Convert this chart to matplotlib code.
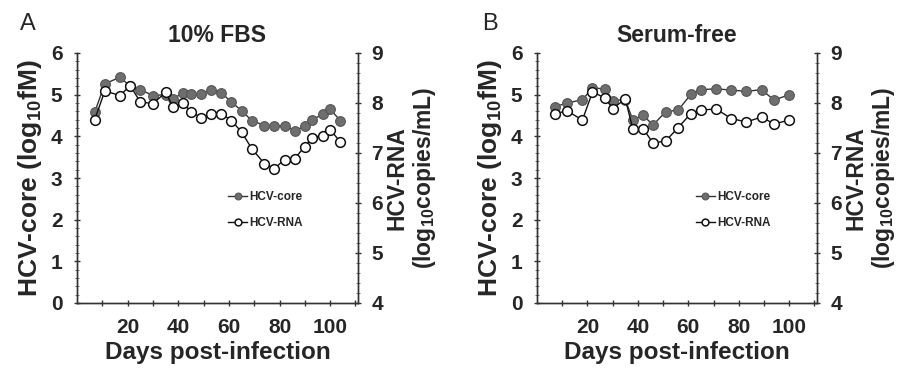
import matplotlib
matplotlib.use("Agg")
import matplotlib.pyplot as plt
from matplotlib.ticker import MultipleLocator, FixedLocator

plt.rcParams['font.family'] = ['Liberation Sans', 'DejaVu Sans']
plt.rcParams['mathtext.fontset'] = 'custom'
plt.rcParams['mathtext.rm'] = 'Liberation Sans:bold'
plt.rcParams['mathtext.it'] = 'Liberation Sans:bold'
plt.rcParams['mathtext.bf'] = 'Liberation Sans:bold'

# panel A: 10% FBS
days_a = [7, 11, 17, 21, 25, 30, 35, 38, 42, 45, 49, 53, 57, 61, 65, 69, 74, 78, 82, 86, 90, 93, 97, 100, 104]
core_a = [4.58, 5.26, 5.42, 5.20, 5.12, 4.98, 5.00, 4.90, 5.05, 5.02, 5.02, 5.12, 5.05, 4.82,
          4.62, 4.38, 4.26, 4.26, 4.25, 4.14, 4.24, 4.40, 4.53, 4.65, 4.38]
rna_a = [7.67, 8.24, 8.15, 8.35, 8.02, 7.99, 8.21, 7.92, 8.00, 7.82, 7.71, 7.79, 7.79, 7.65,
         7.42, 7.09, 6.79, 6.69, 6.87, 6.89, 7.13, 7.31, 7.35, 7.47, 7.22]

# panel B: serum-free
days_b = [7, 12, 18, 22, 27, 30, 35, 38, 42, 46, 51, 56, 61, 65, 71, 77, 83, 89, 94, 100]
core_b = [4.71, 4.80, 4.88, 5.16, 5.14, 4.86, 4.88, 4.39, 4.51, 4.27, 4.59, 4.63, 5.01, 5.12,
          5.14, 5.11, 5.08, 5.12, 4.87, 5.00]
rna_b = [7.79, 7.84, 7.66, 8.22, 8.10, 7.89, 8.08, 7.48, 7.49, 7.20, 7.24, 7.51, 7.79, 7.86,
         7.88, 7.69, 7.62, 7.72, 7.58, 7.66]

TXT = '#262626'
GRAY = '#6e6e6e'


def panel(fig, rect, days, core, rna, title, letter, letter_x, leg_x):
    ax = fig.add_axes(rect)
    ax2 = ax.twinx()
    l1, = ax.plot(days, core, '-o', color='#333333', lw=1.0, ms=7,
                  mfc=GRAY, mec='#555555', mew=0.8, label='HCV-core')
    l2, = ax2.plot(days, rna, '-o', color='#111111', lw=1.0, ms=7,
                   mfc='white', mec='#111111', mew=1.1, label='HCV-RNA')
    ax.set_xlim(0, 111)
    ax.set_ylim(0, 6)
    ax2.set_ylim(4, 9)
    for a in (ax, ax2):
        a.spines['top'].set_visible(False)
        for s in ('left', 'right', 'bottom'):
            a.spines[s].set_color('#333333')
            a.spines[s].set_linewidth(1.0)
    ax.xaxis.set_major_locator(FixedLocator([20, 40, 60, 80, 100]))
    ax.xaxis.set_minor_locator(FixedLocator([10, 30, 50, 70, 90, 110]))
    ax.yaxis.set_major_locator(MultipleLocator(1))
    ax.yaxis.set_minor_locator(MultipleLocator(0.2))
    ax2.yaxis.set_major_locator(MultipleLocator(1))
    ax2.yaxis.set_minor_locator(MultipleLocator(0.2))
    ax.tick_params(axis='x', which='both', direction='inout', length=5, width=1,
                   color='#333333', labelsize=15, labelcolor=TXT, pad=8)
    ax.tick_params(axis='y', which='major', direction='inout', length=5, width=1,
                   color='#333333', labelsize=15, labelcolor=TXT, pad=8)
    ax.tick_params(axis='y', which='minor', direction='inout', length=2.5, width=0.6, color='#555555')
    ax2.tick_params(axis='y', which='major', direction='inout', length=5, width=1,
                    color='#333333', labelsize=15, labelcolor=TXT, pad=7)
    ax2.tick_params(axis='y', which='minor', direction='inout', length=2.5, width=0.6, color='#555555')
    for lab in ax.get_xticklabels() + ax.get_yticklabels() + ax2.get_yticklabels():
        lab.set_fontweight('bold')
    ax.set_xlabel('Days post-infection', fontsize=17.5, fontweight='bold', color=TXT, labelpad=3)
    ax.set_ylabel('HCV-core (log$_{10}$fM)', fontsize=19, fontweight='bold', color=TXT, labelpad=5)
    ax2.set_ylabel('HCV-RNA\n(log$_{10}$copies/mL)', fontsize=16.5, fontweight='bold', color=TXT,
                   labelpad=2, linespacing=1.1)
    ax.set_title(title, fontsize=16.5, fontweight='bold', color=TXT, pad=8)
    fig.text(letter_x, 0.935, letter, fontsize=17, color=TXT, ha='center', va='center')
    ax2.legend([l1, l2], ['HCV-core', 'HCV-RNA'], loc='upper left', bbox_to_anchor=(leg_x, 0.49),
               frameon=False, handlelength=1.6, handletextpad=0.2, labelspacing=1.2,
               prop={'size': 8.5, 'weight': 'bold'}, labelcolor=TXT, markerscale=0.7)


fig = plt.figure(figsize=(9.07, 3.71), dpi=100)
panel(fig, [77 / 907, 68 / 371, 281 / 907, 250 / 371], days_a, core_a, rna_a, '10% FBS', 'A', 28 / 907, 0.5)
panel(fig, [537 / 907, 68 / 371, 280 / 907, 250 / 371], days_b, core_b, rna_b, 'Serum-free', 'B', 490 / 907, 0.53)
fig.savefig('out.png', dpi=100, facecolor='white')
